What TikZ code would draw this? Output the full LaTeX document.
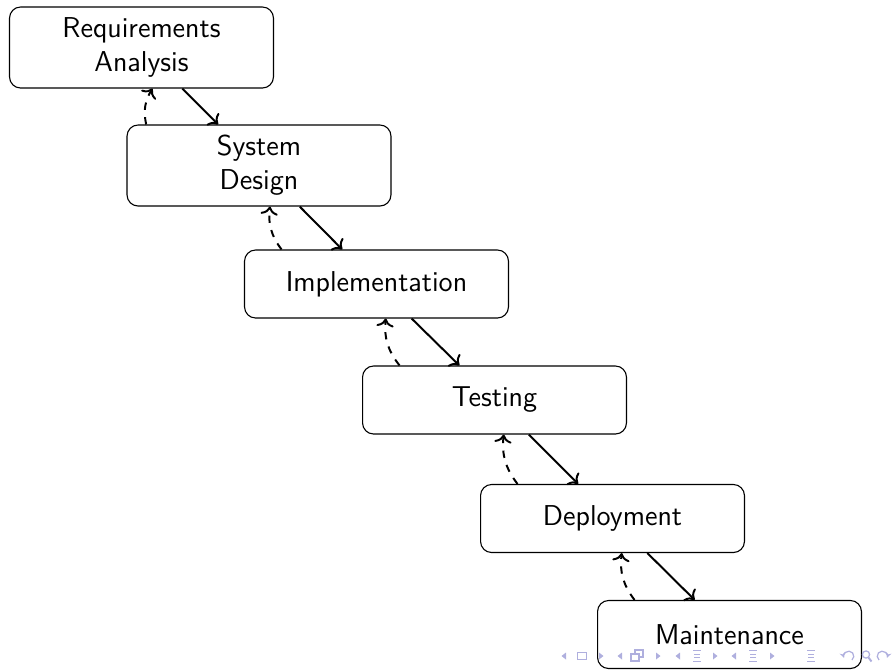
\documentclass[tikz,border=0pt]{standalone}
\usetikzlibrary{arrows.meta}
\definecolor{navcol}{RGB}{175,175,222}
\begin{document}
\begin{tikzpicture}[x=0.40735pt,y=0.40735pt,
  box/.style={draw, line width=0.45pt, rounded corners=4.5pt, minimum width=107.5pt, align=center,
    font=\sffamily\fontsize{11.7}{13.9}\selectfont, inner sep=0pt},
  onebox/.style={box, minimum height=27.7pt},
  twobox/.style={box, minimum height=33pt},
  flow/.style={->, thick},
  back/.style={->, thick, dashed},
  navtri/.style={fill=navcol, draw=none},
  navline/.style={draw=navcol, line width=0.5pt}]
\useasboundingbox (0,0) rectangle (894,-669);
% boxes
\node[twobox] (req) at (141.5,-47.5) {Requirements\\Analysis};
\node[twobox] (des) at (259,-165.5) {System\\Design};
\node[onebox] (imp) at (376.5,-284) {Implementation};
\node[onebox] (tst) at (494.5,-400) {Testing};
\node[onebox] (dep) at (612.5,-518.5) {Deployment};
\node[onebox] (mnt) at (729.5,-634.5) {Maintenance};
% forward arrows
\draw[flow] (req) -- (des);
\draw[flow] (des) -- (imp);
\draw[flow] (imp) -- (tst);
\draw[flow] (tst) -- (dep);
\draw[flow] (dep) -- (mnt);
% feedback arrows
\draw[back] (des.160) to[bend left=22] (req.285);
\draw[back] (imp.160) to[bend left=22] (des.285);
\draw[back] (tst.160) to[bend left=22] (imp.285);
\draw[back] (dep.160) to[bend left=22] (tst.285);
\draw[back] (mnt.160) to[bend left=22] (dep.285);
% navigation symbols
\foreach \x in {564,620,678,734}
  \fill[navtri] (\x+2,-652.5) -- (\x-2.5,-656) -- (\x+2,-659.5) -- cycle;
\foreach \x in {601,658,715,772}
  \fill[navtri] (\x-2,-652.5) -- (\x+2.5,-656) -- (\x-2,-659.5) -- cycle;
\draw[navline] (577.5,-652.5) rectangle (586.5,-659.5);
\draw[navline] (635,-650) rectangle (643,-657);
\filldraw[navline, fill=white] (631,-654) rectangle (639,-661);
\foreach \x in {697,753,811} {
  \draw[navline] (\x-4,-650.5) -- (\x+4,-650.5);
  \draw[navline] (\x-3,-654.2) -- (\x+3,-654.2);
  \draw[navline] (\x-3,-657.8) -- (\x+3,-657.8);
  \draw[navline] (\x-4,-661.5) -- (\x+4,-661.5);
}
\draw[navline, -{Stealth[length=2.2pt,width=2.2pt]}] (852,-660) arc[start angle=-50, end angle=200, radius=5];
\draw[navline] (866,-654.5) circle[radius=3.6];
\draw[navline, line width=0.8pt] (868.5,-657.5) -- (871.5,-661.5);
\draw[navline, -{Stealth[length=2.2pt,width=2.2pt]}] (879,-660) arc[start angle=230, end angle=-20, radius=5];
\end{tikzpicture}
\end{document}
